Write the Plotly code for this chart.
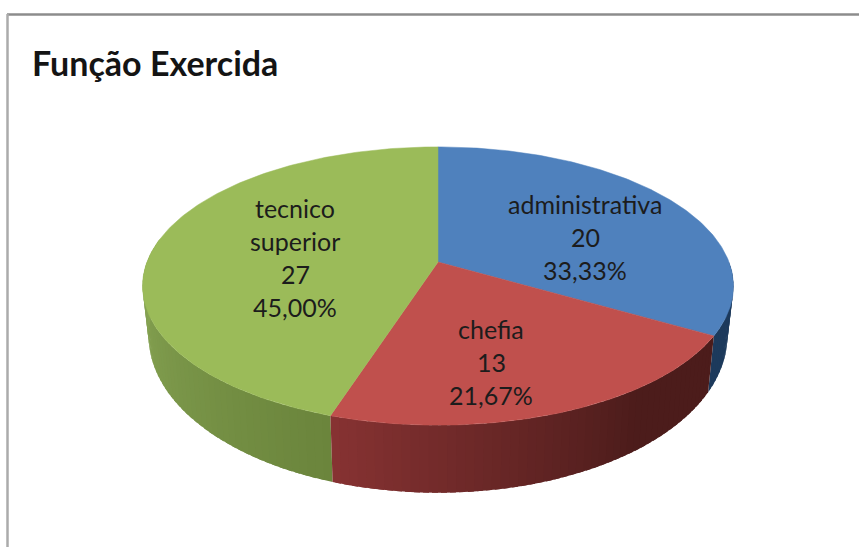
import numpy as np
import plotly.graph_objects as go

categories = ["administrativa", "chefia", "tecnico superior"]
values = [20, 13, 27]
top_colors = ["#4F81BD", "#C0504D", "#9BBB59"]
side_start = [(29, 58, 92), (76, 28, 27), (107, 133, 60)]
side_end = [(29, 58, 92), (134, 50, 50), (140, 170, 88)]
side_plateau = [0.0, 0.3, 0.0]
title_text = "Função Exercida"

W, H = 859, 547
CX, K = 438, 0.1727
TOP_Y, TOP_S, TOP_R = 262, 135, 291
BOT_Y, BOT_S, BOT_R = 309, 152, 285
LABEL_POS = {"administrativa": (585, 204), "chefia": (491, 329), "tecnico superior": (295, 208)}
LINE_H = 33


def project(theta_deg, y0, s, r):
    t = np.radians(theta_deg)
    u, v = np.sin(t), -np.cos(t)
    d = 1 - K * v
    return CX + r * u / d, y0 + s * v / d


total = sum(values)
edges = np.concatenate([[0], np.cumsum(values) / total * 360])
VISIBLE_LEFT = 280

fig = go.Figure()


def poly(x, y, color, line_w=0.0):
    fig.add_trace(go.Scatter(x=list(x), y=list(y), mode="lines", fill="toself", fillcolor=color,
                             line=dict(color=color, width=line_w), hoverinfo="skip", showlegend=False))


# side walls, back to front
for i in [0, 2, 1]:
    a0, a1 = edges[i], edges[i + 1]
    if i == 0:
        a0 = 90
    if i == 2:
        a1 = VISIBLE_LEFT
    n = max(2, int((a1 - a0) / 1.5))
    steps = np.linspace(a0, a1, n + 1)
    for j in range(n):
        f = j / max(1, n - 1)
        f = max(0.0, (f - side_plateau[i]) / (1 - side_plateau[i]))
        c = [round(s + (e - s) * f) for s, e in zip(side_start[i], side_end[i])]
        col = f"rgb({c[0]},{c[1]},{c[2]})"
        th = np.linspace(steps[j], min(steps[j + 1] + 1.0, a1), 3)
        xt, yt = project(th, TOP_Y, TOP_S, TOP_R)
        xb, yb = project(th[::-1], BOT_Y, BOT_S, BOT_R)
        poly(np.r_[xt, xb], np.r_[yt, yb], col)

# top faces
for i in range(len(values)):
    th = np.linspace(edges[i], edges[i + 1], 160)
    x, y = project(th, TOP_Y, TOP_S, TOP_R)
    poly(np.r_[CX, x, CX], np.r_[TOP_Y, y, TOP_Y], top_colors[i], 0.5)

ann = [dict(x=30, y=62.5, text=title_text, xanchor="left", yanchor="middle", showarrow=False,
            font=dict(family="Lato", size=34, color="#141414", weight="bold"))]
for cat, v in zip(categories, values):
    lines = cat.split(" ") + [str(v), f"{v / total * 100:.2f}%".replace(".", ",")]
    x0, y0 = LABEL_POS[cat]
    for k, t in enumerate(lines):
        ann.append(dict(x=x0, y=y0 + k * LINE_H, text=t, showarrow=False, xanchor="center", yanchor="middle",
                        font=dict(family="Lato", size=25, color="#1c1c1c")))

fig.update_layout(
    width=W, height=H, margin=dict(l=0, r=0, t=0, b=0), paper_bgcolor="white", plot_bgcolor="white",
    xaxis=dict(range=[0, W], visible=False, fixedrange=True),
    yaxis=dict(range=[H, 0], visible=False, fixedrange=True),
    showlegend=False, annotations=ann,
    shapes=[
        dict(type="line", x0=7, x1=W, y0=14.5, y1=14.5, line=dict(color="#8c8c8c", width=2.5)),
        dict(type="line", x0=7.5, x1=7.5, y0=14, y1=H, line=dict(color="#ababab", width=2.5)),
    ],
)
fig.write_html("out.html", config={"displayModeBar": False},
               post_script="document.body.style.margin='0';document.body.style.overflow='hidden';")
